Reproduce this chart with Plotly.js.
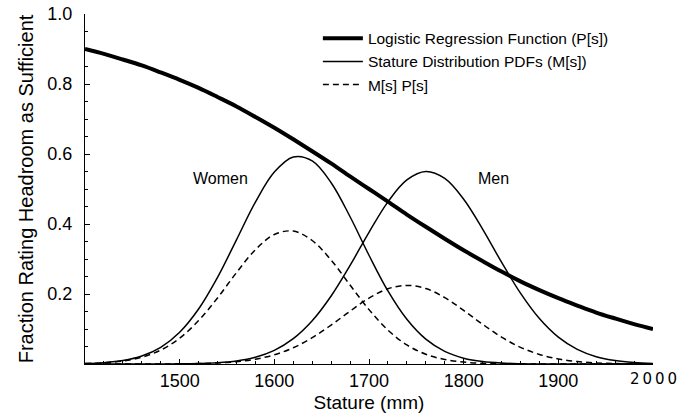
<!DOCTYPE html>
<html>
<head>
<meta charset="utf-8">
<script src="https://cdn.plot.ly/plotly-3.0.1.min.js"></script>
<style>body{margin:0;background:#fff}#chart{width:691px;height:419px}</style>
</head>
<body>
<div id="chart"></div>
<script>
var stature = [1400,1420,1440,1460,1480,1500,1520,1540,1560,1580,1600,1620,1640,1660,1680,1700,1720,1740,1760,1780,1800,1820,1840,1860,1880,1900,1920,1940,1960,1980,2000];
var logisticP = [0.900,0.886,0.870,0.853,0.833,0.812,0.789,0.763,0.736,0.706,0.675,0.642,0.608,0.573,0.536,0.500,0.464,0.427,0.392,0.358,0.325,0.294,0.264,0.236,0.211,0.188,0.167,0.147,0.130,0.114,0.100];
var womenPDF = [0.0014,0.0039,0.0099,0.0228,0.0476,0.0908,0.1571,0.2475,0.3547,0.4624,0.5483,0.5915,0.5804,0.5180,0.4207,0.3107,0.2087,0.1276,0.0709,0.0359,0.0165,0.0069,0.0026,0.0009,0.0003,0.0001,0,0,0,0,0];
var menPDF = [0,0,0,0.0001,0.0002,0.0005,0.0015,0.0038,0.0089,0.0194,0.0390,0.0723,0.1235,0.1942,0.2816,0.3763,0.4633,0.5258,0.5499,0.5301,0.4709,0.3856,0.2909,0.2023,0.1297,0.0766,0.0417,0.0209,0.0097,0.0041,0.0016];
var womenMP = [0.0013,0.0035,0.0086,0.0194,0.0397,0.0737,0.1240,0.1888,0.2611,0.3265,0.3701,0.3797,0.3529,0.2968,0.2255,0.1554,0.0968,0.0545,0.0278,0.0129,0.0054,0.0020,0.0007,0.0002,0.0001,0,0,0,0,0,0];
var menMP = [0,0,0,0,0.0001,0.0004,0.0012,0.0029,0.0066,0.0137,0.0263,0.0464,0.0751,0.1113,0.1509,0.1882,0.2150,0.2245,0.2156,0.1898,0.1530,0.1134,0.0768,0.0477,0.0274,0.0144,0.0070,0.0031,0.0013,0.0005,0.0002];
var xTicks = [1500,1600,1700,1800,1900];
var yTicks = [0.2,0.4,0.6,0.8,1.0];
var yTickText = ['0.2','0.4','0.6','0.8','1.0'];
var names = ['Logistic Regression Function (P[s])','Stature Distribution PDFs (M[s])','M[s] P[s]'];

var F = 'Liberation Sans, Arial, sans-serif';
function tr(y, name, width, dash, show, group){
  return {x: stature, y: y, type: 'scatter', mode: 'lines', name: name,
    line: {color: '#000', width: width, dash: dash, shape: 'spline', smoothing: 1},
    showlegend: show, legendgroup: group, hoverinfo: 'skip'};
}
var data = [
  tr(logisticP, names[0], 4, 'solid', true, 'a'),
  tr(womenPDF, names[1], 1.5, 'solid', true, 'b'),
  tr(menPDF, names[1], 1.5, 'solid', false, 'b'),
  tr(womenMP, names[2], 1.5, '6px,4px', true, 'c'),
  tr(menMP, names[2], 1.5, '6px,4px', false, 'c')
];
var layout = {
  width: 691, height: 419,
  margin: {l: 85, r: 38, t: 14, b: 55},
  paper_bgcolor: '#fff', plot_bgcolor: '#fff',
  font: {family: F, color: '#000', size: 18},
  showlegend: true,
  legend: {x: 0.41, y: 0.978, xanchor: 'left', yanchor: 'top', bgcolor: 'rgba(0,0,0,0)',
    font: {family: F, size: 15.5, color: '#000'}, itemwidth: 40, tracegroupgap: 0, traceorder: 'normal'},
  xaxis: {range: [1400, 2000], tickvals: xTicks, ticks: 'inside', ticklen: 5, tickwidth: 1, tickcolor: '#000',
    minor: {dtick: 20, tick0: 1400, ticks: 'inside', ticklen: 3, tickcolor: '#000', showgrid: false},
    showline: true, linecolor: '#000', linewidth: 1, showgrid: false, zeroline: false,
    tickfont: {family: F, size: 18}, title: {text: 'Stature (mm)', font: {family: F, size: 19}, standoff: 6}},
  yaxis: {range: [0, 1], tickvals: yTicks, ticktext: yTickText, ticks: 'inside', ticklen: 5, tickwidth: 1, tickcolor: '#000',
    minor: {dtick: 0.05, tick0: 0, ticks: 'inside', ticklen: 3, tickcolor: '#000', showgrid: false},
    showline: true, linecolor: '#000', linewidth: 1, showgrid: false, zeroline: false,
    ticklabelstandoff: 8,
    tickfont: {family: F, size: 18}, title: {text: 'Fraction Rating Headroom as Sufficient', font: {family: F, size: 20}, standoff: 8}},
  annotations: [
    {x: 1543, y: 0.53, xref: 'x', yref: 'y', text: 'Women', showarrow: false, font: {family: F, size: 16}},
    {x: 1831, y: 0.53, xref: 'x', yref: 'y', text: 'Men', showarrow: false, font: {family: F, size: 16}},
    {x: 2000, y: 0, xref: 'x', yref: 'paper', yanchor: 'top', yshift: -4, text: '2\u20090\u20090\u20090', showarrow: false,
      font: {family: 'DejaVu Sans, sans-serif', size: 15, color: '#000'}}
  ]
};
Plotly.newPlot('chart', data, layout, {staticPlot: true, displayModeBar: false});
</script>
</body>
</html>
